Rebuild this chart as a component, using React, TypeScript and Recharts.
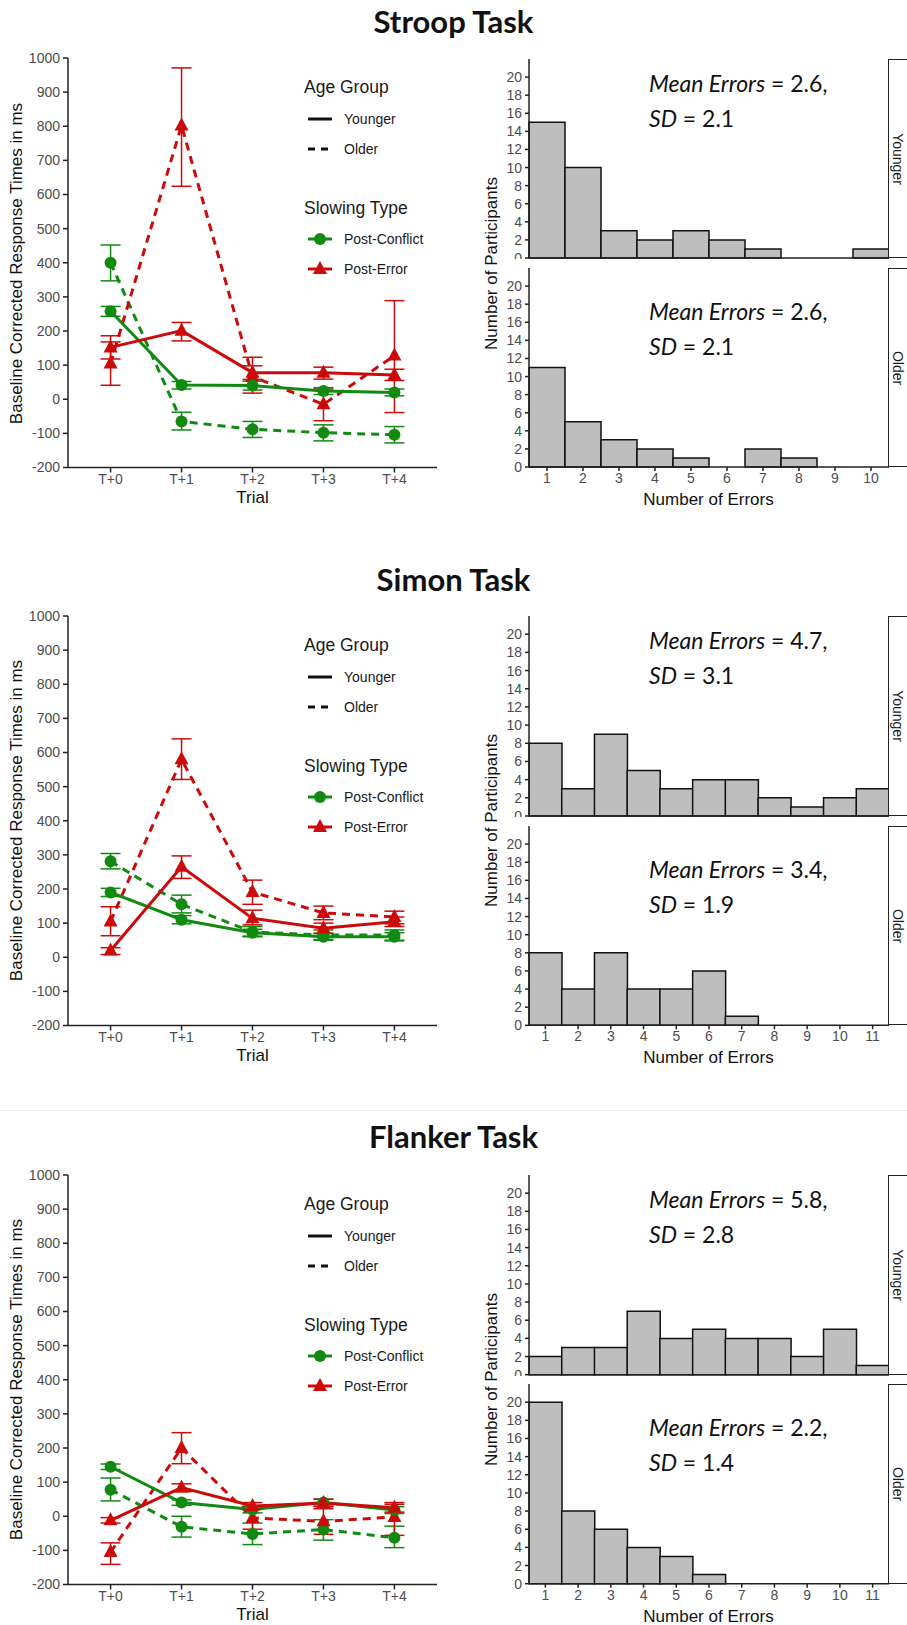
import React from 'react'
import { LineChart, Line, XAxis, YAxis, ErrorBar, BarChart, Bar } from 'recharts'

// ---- shared axes ----
const trials = ['T+0', 'T+1', 'T+2', 'T+3', 'T+4']
const rtTicks = [-200, -100, 0, 100, 200, 300, 400, 500, 600, 700, 800, 900, 1000]
const countTicks = [0, 2, 4, 6, 8, 10, 12, 14, 16, 18, 20]

// ---- Stroop: slowing (ms) with CI bounds ----
const stroopPcYoung = [258, 42, 40, 24, 20]
const stroopPcYoungCI = [[243, 272], [30, 52], [27, 53], [14, 34], [10, 30]]
const stroopPcOld = [400, -65, -88, -98, -104]
const stroopPcOldCI = [[347, 452], [-90, -38], [-112, -65], [-122, -75], [-128, -80]]
const stroopPeYoung = [152, 201, 78, 78, 71]
const stroopPeYoungCI = [[118, 186], [171, 225], [58, 98], [59, 94], [55, 88]]
const stroopPeOld = [105, 802, 66, -15, 128]
const stroopPeOldCI = [[41, 168], [624, 971], [18, 123], [-63, 30], [-39, 289]]

// ---- Simon ----
const simonPcYoung = [190, 110, 72, 60, 60]
const simonPcYoungCI = [[178, 202], [98, 122], [62, 82], [50, 70], [48, 72]]
const simonPcOld = [281, 155, 74, 65, 65]
const simonPcOldCI = [[259, 304], [130, 182], [60, 90], [52, 80], [50, 80]]
const simonPeYoung = [20, 265, 114, 85, 104]
const simonPeYoungCI = [[8, 28], [231, 297], [95, 138], [70, 100], [90, 118]]
const simonPeOld = [105, 580, 191, 130, 118]
const simonPeOldCI = [[63, 148], [521, 640], [155, 226], [110, 150], [98, 135]]

// ---- Flanker ----
const flankerPcYoung = [145, 40, 20, 40, 18]
const flankerPcYoungCI = [[137, 153], [32, 48], [10, 30], [30, 50], [8, 28]]
const flankerPcOld = [78, -31, -52, -39, -63]
const flankerPcOldCI = [[45, 112], [-61, 0], [-83, -20], [-70, -10], [-92, -29]]
const flankerPeYoung = [-12, 84, 30, 39, 25]
const flankerPeYoungCI = [[-20, -4], [72, 95], [20, 40], [28, 50], [12, 40]]
const flankerPeOld = [-105, 200, -5, -15, -2]
const flankerPeOldCI = [[-141, -78], [154, 245], [-38, 28], [-53, 22], [-56, 35]]

// ---- error counts histograms (bins start at 1) ----
const stroopErrYoung = [15, 10, 3, 2, 3, 2, 1, 0, 0, 1]
const stroopErrOld = [11, 5, 3, 2, 1, 0, 2, 1, 0, 0]
const simonErrYoung = [8, 3, 9, 5, 3, 4, 4, 2, 1, 2, 3]
const simonErrOld = [8, 4, 8, 4, 4, 6, 1, 0, 0, 0, 0]
const flankerErrYoung = [2, 3, 3, 7, 4, 5, 4, 4, 2, 5, 1]
const flankerErrOld = [20, 8, 6, 4, 3, 1, 0, 0, 0, 0, 0]

// mean, sd labels
const stroopStats = [['2.6', '2.1'], ['2.6', '2.1']]
const simonStats = [['4.7', '3.1'], ['3.4', '1.9']]
const flankerStats = [['5.8', '2.8'], ['2.2', '1.4']]

const GREEN = '#118a11'
const RED = '#cc0a0a'
const AXIS = '#222'
const TICK_TXT = '#4d4d4d'
const SANS = '"Liberation Sans", Arial, sans-serif'
const CAL = 'Lato, "Open Sans", sans-serif'

type Sets = {
  pcY: number[]; pcYCI: number[][]
  pcO: number[]; pcOCI: number[][]
  peY: number[]; peYCI: number[][]
  peO: number[]; peOCI: number[][]
}

function buildRows(s: Sets) {
  const err = (v: number[], ci: number[][], i: number) => [v[i] - ci[i][0], ci[i][1] - v[i]]
  return trials.map((_, i) => ({
    x: i,
    pcY: s.pcY[i], pcYErr: err(s.pcY, s.pcYCI, i),
    pcO: s.pcO[i], pcOErr: err(s.pcO, s.pcOCI, i),
    peY: s.peY[i], peYErr: err(s.peY, s.peYCI, i),
    peO: s.peO[i], peOErr: err(s.peO, s.peOCI, i),
  }))
}

const triangle = (color: string) => (p: any) => {
  const { cx, cy } = p
  if (cx == null || cy == null) return <g key={p.index} />
  return (
    <path
      key={`tri-${p.index}`}
      d={`M${cx},${cy - 8} L${cx + 7},${cy + 5} L${cx - 7},${cy + 5} Z`}
      fill={color}
    />
  )
}

// rotated text centred on (cx, cy)
function RotLabel({ cx, cy, text, angle, fontSize, color = '#111' }: {
  cx: number; cy: number; text: string; angle: number; fontSize: number; color?: string
}) {
  const w = 420
  const h = fontSize + 4
  return (
    <div style={{
      position: 'absolute', left: cx - w / 2, top: cy - h / 2, width: w, height: h, lineHeight: `${h}px`,
      textAlign: 'center', transform: `rotate(${angle}deg)`, whiteSpace: 'nowrap',
      fontSize, fontFamily: SANS, color,
    }}>{text}</div>
  )
}

const DASH = '8 6'

function RTChart({ rows, plotTop }: { rows: any[]; plotTop: number }) {
  const plotH = 409.5
  return (
    <>
      <div style={{ position: 'absolute', left: 0, top: plotTop - 10 }}>
        <LineChart width={457} height={plotH + 40} data={rows} margin={{ top: 10, right: 20, bottom: 0, left: 0 }}>
          <XAxis
            dataKey="x"
            type="number"
            domain={[-0.6, 4.6]}
            ticks={[0, 1, 2, 3, 4]}
            tickFormatter={(i: number) => trials[i]}
            height={30}
            stroke={AXIS}
            strokeWidth={1.5}
            tickSize={5}
            tickMargin={2}
            tick={{ fill: TICK_TXT, fontSize: 14, fontFamily: SANS }}
          />
          <YAxis
            type="number"
            domain={[-200, 1000]}
            ticks={rtTicks}
            width={68}
            stroke={AXIS}
            strokeWidth={1.5}
            tickSize={5}
            tickMargin={3}
            interval={0}
            tick={{ fill: TICK_TXT, fontSize: 14, fontFamily: SANS }}
          />
          <Line dataKey="pcO" stroke={GREEN} strokeWidth={3} strokeDasharray={DASH} isAnimationActive={false}
            dot={{ r: 6, fill: GREEN, stroke: GREEN, strokeWidth: 0 }} activeDot={false}>
            <ErrorBar dataKey="pcOErr" width={10} stroke={GREEN} strokeWidth={1.5} direction="y" />
          </Line>
          <Line dataKey="peO" stroke={RED} strokeWidth={3} strokeDasharray={DASH} isAnimationActive={false}
            dot={triangle(RED)} activeDot={false}>
            <ErrorBar dataKey="peOErr" width={10} stroke={RED} strokeWidth={1.5} direction="y" />
          </Line>
          <Line dataKey="pcY" stroke={GREEN} strokeWidth={3} isAnimationActive={false}
            dot={{ r: 6, fill: GREEN, stroke: GREEN, strokeWidth: 0 }} activeDot={false}>
            <ErrorBar dataKey="pcYErr" width={10} stroke={GREEN} strokeWidth={1.5} direction="y" />
          </Line>
          <Line dataKey="peY" stroke={RED} strokeWidth={3} isAnimationActive={false}
            dot={triangle(RED)} activeDot={false}>
            <ErrorBar dataKey="peYErr" width={10} stroke={RED} strokeWidth={1.5} direction="y" />
          </Line>
        </LineChart>
        <div style={{ position: 'absolute', left: 68, width: 369, top: plotH + 30, textAlign: 'center', fontSize: 17, fontFamily: SANS, color: '#111' }}>
          Trial
        </div>
        <RTLegend />
      </div>
      <RotLabel cx={16} cy={plotTop + plotH / 2} text="Baseline Corrected Response Times in ms" angle={-90} fontSize={17} />
    </>
  )
}

function RTLegend() {
  const t = { fontFamily: SANS, fill: '#1a1a1a' }
  return (
    <svg style={{ position: 'absolute', left: 300, top: 10 }} width={160} height={230}>
      <text x={4} y={29} dominantBaseline="central" fontSize={17.5} {...t}>Age Group</text>
      <line x1={8} x2={32} y1={61} y2={61} stroke="#111" strokeWidth={3} />
      <text x={44} y={61} dominantBaseline="central" fontSize={14} {...t}>Younger</text>
      <line x1={8} x2={32} y1={91} y2={91} stroke="#111" strokeWidth={3} strokeDasharray="7 6" />
      <text x={44} y={91} dominantBaseline="central" fontSize={14} {...t}>Older</text>
      <text x={4} y={150} dominantBaseline="central" fontSize={17.5} {...t}>Slowing Type</text>
      <line x1={8} x2={32} y1={181} y2={181} stroke={GREEN} strokeWidth={3} />
      <circle cx={20} cy={181} r={6} fill={GREEN} />
      <text x={44} y={181} dominantBaseline="central" fontSize={14} {...t}>Post-Conflict</text>
      <line x1={8} x2={32} y1={211} y2={211} stroke={RED} strokeWidth={3} />
      <path d="M20,203 L27,216 L13,216 Z" fill={RED} />
      <text x={44} y={211} dominantBaseline="central" fontSize={14} {...t}>Post-Error</text>
    </svg>
  )
}

function HistPanel({ counts, top, bottom, showX, strip, stats, nBins }: {
  counts: number[]; top: number; bottom: number; showX: boolean; strip: string; stats: string[]; nBins: number
}) {
  const rows = Array.from({ length: nBins }, (_, i) => ({ bin: String(i + 1), n: counts[i] ?? 0 }))
  const plotH = bottom - top
  const xh = showX ? 26 : 1
  return (
    <>
      <div style={{ position: 'absolute', left: 460, top: top - 5 }}>
        <BarChart width={429} height={plotH + 5 + xh} data={rows} barCategoryGap={0} barGap={0}
          margin={{ top: 5, right: 0, bottom: 0, left: 0 }}>
          <XAxis dataKey="bin" height={xh} stroke={AXIS} strokeWidth={1.5}
            tick={showX ? { fill: TICK_TXT, fontSize: 14, fontFamily: SANS } : false}
            tickLine={showX} tickSize={4} tickMargin={2} interval={0} />
          <YAxis type="number" domain={[0, 22]} ticks={countTicks} width={69} stroke={AXIS} strokeWidth={1.5}
            tickSize={4} tickMargin={3} interval={0}
            tick={{ fill: TICK_TXT, fontSize: 14, fontFamily: SANS }} />
          <Bar dataKey="n" fill="#bebebe" stroke="#111" strokeWidth={1.5} isAnimationActive={false} />
        </BarChart>
      </div>
      <div style={{
        position: 'absolute', left: 888, top, width: 40, height: plotH, boxSizing: 'border-box',
        border: '1.5px solid #222', background: '#fff',
      }} />
      <RotLabel cx={898} cy={top + plotH / 2} text={strip} angle={90} fontSize={14} color="#1a1a1a" />
      <div style={{
        position: 'absolute', left: 649, top: top + (showX ? 25.5 : 6.5), fontFamily: CAL,
        fontSize: 23, lineHeight: '35px', color: '#111',
      }}>
        <div><i>Mean Errors</i> = {stats[0]},</div>
        <div><i>SD</i> = {stats[1]}</div>
      </div>
    </>
  )
}

function HistPair({ young, old, topY, botY, nBins, stats }: {
  young: number[]; old: number[]; topY: [number, number]; botY: [number, number]; nBins: number; stats: string[][]
}) {
  return (
    <>
      <HistPanel counts={young} top={topY[0]} bottom={topY[1]} showX={false} strip="Younger" stats={stats[0]} nBins={nBins} />
      <HistPanel counts={old} top={botY[0]} bottom={botY[1]} showX strip="Older" stats={stats[1]} nBins={nBins} />
      <div style={{ position: 'absolute', left: 529, width: 359, top: botY[1] + 23, textAlign: 'center', fontSize: 17, fontFamily: SANS, color: '#111' }}>
        Number of Errors
      </div>
      <RotLabel cx={491} cy={(topY[0] + botY[1]) / 2} text="Number of Participants" angle={-90} fontSize={17} />
    </>
  )
}

// y = vertical centre of the capitals
function Title({ text, y }: { text: string; y: number }) {
  const fs = 31
  return (
    <div style={{
      position: 'absolute', left: 0, width: 907, top: y - fs * 0.627, textAlign: 'center',
      fontFamily: CAL, fontWeight: 700, fontSize: fs, lineHeight: 1.2, color: '#111',
    }}>{text}</div>
  )
}

export default function App() {
  const stroopRows = buildRows({
    pcY: stroopPcYoung, pcYCI: stroopPcYoungCI, pcO: stroopPcOld, pcOCI: stroopPcOldCI,
    peY: stroopPeYoung, peYCI: stroopPeYoungCI, peO: stroopPeOld, peOCI: stroopPeOldCI,
  })
  const simonRows = buildRows({
    pcY: simonPcYoung, pcYCI: simonPcYoungCI, pcO: simonPcOld, pcOCI: simonPcOldCI,
    peY: simonPeYoung, peYCI: simonPeYoungCI, peO: simonPeOld, peOCI: simonPeOldCI,
  })
  const flankerRows = buildRows({
    pcY: flankerPcYoung, pcYCI: flankerPcYoungCI, pcO: flankerPcOld, pcOCI: flankerPcOldCI,
    peY: flankerPeYoung, peYCI: flankerPeYoungCI, peO: flankerPeOld, peOCI: flankerPeOldCI,
  })

  return (
    <div style={{ position: 'absolute', left: 0, top: 0, width: 907, height: 1625, background: '#fff', overflow: 'hidden' }}>
      <Title text="Stroop Task" y={22.5} />
      <RTChart rows={stroopRows} plotTop={58.3} />
      <HistPair young={stroopErrYoung} old={stroopErrOld} topY={[59.3, 258.3]} botY={[268.3, 467.3]} nBins={10} stats={stroopStats} />

      <Title text="Simon Task" y={580} />
      <RTChart rows={simonRows} plotTop={616} />
      <HistPair young={simonErrYoung} old={simonErrOld} topY={[616, 816]} botY={[826, 1025.3]} nBins={11} stats={simonStats} />

      <div style={{ position: 'absolute', left: 0, width: 907, top: 1110, height: 1, background: '#f0f0f0' }} />

      <Title text="Flanker Task" y={1137} />
      <RTChart rows={flankerRows} plotTop={1175} />
      <HistPair young={flankerErrYoung} old={flankerErrOld} topY={[1175, 1374.7]} botY={[1384.3, 1584]} nBins={11} stats={flankerStats} />
    </div>
  )
}
